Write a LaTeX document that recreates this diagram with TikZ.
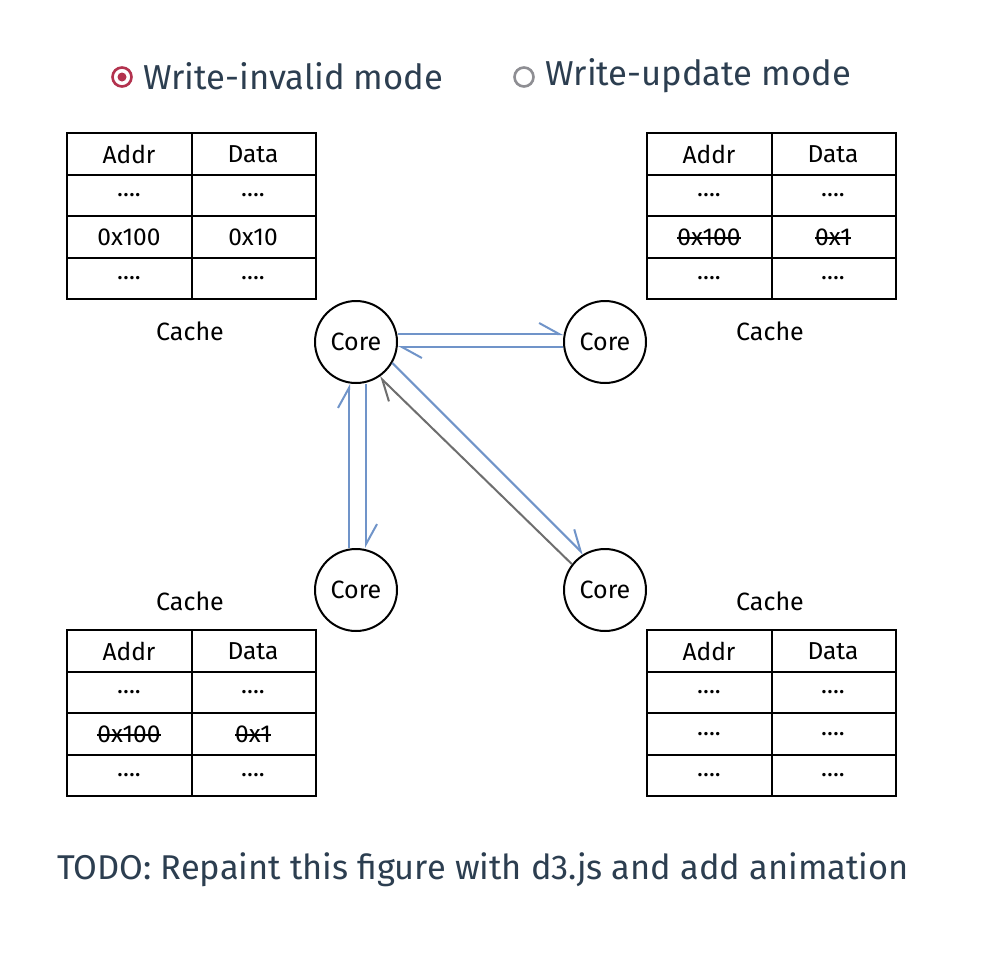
\documentclass[tikz,border=0pt]{standalone}
\usepackage{fontspec}
\setmainfont{Fira Sans}
\usetikzlibrary{arrows.meta}
\definecolor{slate}{HTML}{2C3E50}
\definecolor{linkblue}{HTML}{7094C9}
\definecolor{linkgray}{HTML}{6E6E6E}
\definecolor{radiored}{HTML}{B3324E}
\definecolor{radiogray}{HTML}{8E8E93}
\newcommand\strk[1]{\setbox0\hbox{#1}\rlap{\rule[0.27em]{\wd0}{0.06em}}\box0}
\tikzset{
  cell/.style={font=\fontsize{24.5}{28}\selectfont, anchor=center, inner sep=0pt},
  tbl/.style={draw=black, line width=2pt},
  core/.style={circle, draw=black, line width=2pt, minimum size=82pt, inner sep=0pt, font=\fontsize{25}{28}\selectfont},
  cachelbl/.style={font=\fontsize{25}{28}\selectfont},
  link/.style={draw=linkblue, line width=2pt, -{Straight Barb[harpoon,length=20pt,width=22pt,line width=2pt]}},
  glink/.style={draw=linkgray, line width=2pt, -{Straight Barb[harpoon,length=20pt,width=22pt,line width=2pt]}},
  legend/.style={font=\fontsize{34.6}{40}\selectfont, text=slate, anchor=west, inner sep=0pt},
}
\newcommand\cachetable[3]{% #1 x, #2 y, #3 name prefix
  \begin{scope}[shift={(#1,#2)}]
    \draw[tbl] (0,0) rectangle (249,166);
    \draw[tbl] (124.5,0) -- (124.5,166);
    \foreach \yy in {41.5,83,124.5} \draw[tbl] (0,\yy) -- (249,\yy);
    \node[cell] (#3a1) at (62,21) {Addr};
    \node[cell] (#3d1) at (186,21) {Data};
    \node[cell] (#3a2) at (62,62) {....};
    \node[cell] (#3d2) at (186,62) {....};
    \node[cell] (#3a4) at (62,145) {....};
    \node[cell] (#3d4) at (186,145) {....};
  \end{scope}}
\begin{document}
\begin{tikzpicture}[x=1pt,y=-1pt]
\useasboundingbox (0,0) rectangle (1007,964);
\fill[white] (0,0) rectangle (1007,964);

% legend
\draw[radiored, line width=2.6pt] (122,77) circle (9.5);
\fill[radiored] (122,77) circle (4.5);
\node[legend] (inv) at (143,76) {Write-invalid mode};
\draw[radiogray, line width=2.6pt] (524,77) circle (9.5);
\node[legend] (upd) at (545,76) {Write-update mode};

% tables
\cachetable{67}{133}{tl}
\node[cell] (tla3) at (129,237) {0x100};
\node[cell] (tld3) at (253,237) {0x10};
\cachetable{647}{133}{tr}
\node[cell] (tra3) at (709,237) {\strk{0x100}};
\node[cell] (trd3) at (833,237) {\strk{0x1}};
\cachetable{67}{630}{bl}
\node[cell] (bla3) at (129,734) {\strk{0x100}};
\node[cell] (bld3) at (253,734) {\strk{0x1}};
\cachetable{647}{630}{br}
\node[cell] (bra3) at (709,734) {....};
\node[cell] (brd3) at (833,734) {....};

% cache labels
\node[cachelbl] (ctl) at (190,331) {Cache};
\node[cachelbl] (ctr) at (770,331) {Cache};
\node[cachelbl] (cbl) at (190,601) {Cache};
\node[cachelbl] (cbr) at (770,601) {Cache};

% cores
\node[core] (c1) at (356,342) {Core};
\node[core] (c2) at (605,342) {Core};
\node[core] (c3) at (356,590) {Core};
\node[core] (c4) at (605,590) {Core};

% connectors
\draw[link] ([yshift=8pt]c1.east) -- ([yshift=8pt]c2.west);
\draw[link] ([yshift=-5pt]c2.west) -- ([yshift=-5pt]c1.east);
\draw[link] ([xshift=-7pt]c3.north) -- ([xshift=-7pt]c1.south);
\draw[link] ([xshift=10pt]c1.south) -- ([xshift=10pt]c3.north);
\draw[link] (c1.-30) -- (c4.121);
\draw[glink] (c4.142) -- (c1.-56);

% footer
\node[font=\fontsize{34.4}{40}\selectfont, text=slate, anchor=west, inner sep=0pt] (todo) at (57,870) {TODO: Repaint this figure with d3.js and add animation};
\end{tikzpicture}
\end{document}
